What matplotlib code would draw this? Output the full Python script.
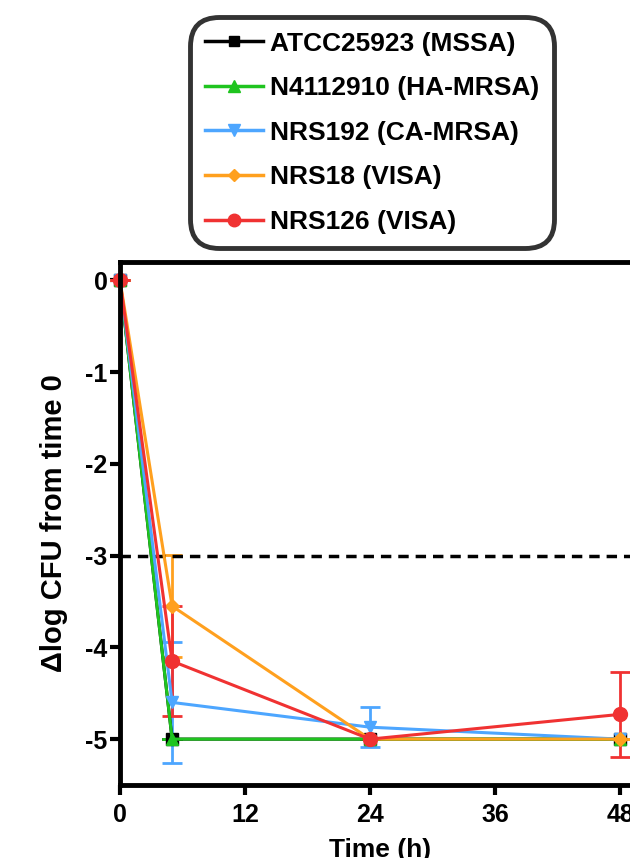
import matplotlib
matplotlib.use('Agg')
import matplotlib.pyplot as plt
from matplotlib.lines import Line2D

plt.rcParams['font.family'] = ['Liberation Sans', 'DejaVu Sans']
plt.rcParams['font.weight'] = 'bold'

# time points (h)
time_h = [0, 5, 24, 48]

# strains
labels = ['ATCC25923 (MSSA)', 'N4112910 (HA-MRSA)', 'NRS192 (CA-MRSA)',
          'NRS18 (VISA)', 'NRS126 (VISA)']
colors = ['#000000', '#1fc41f', '#4da6ff', '#ffa01e', '#f03232']
markers = ['s', '^', 'v', 'D', 'o']

# delta log CFU from time 0
atcc = [0, -5.0, -5.0, -5.0]
n411 = [0, -5.0, -5.0, -5.0]
nrs192 = [0, -4.60, -4.87, -5.0]
nrs18 = [0, -3.55, -5.0, -5.0]
nrs126 = [0, -4.15, -5.0, -4.73]

# error (SD)
atcc_err = [0, 0, 0, 0]
n411_err = [0, 0, 0, 0]
nrs192_err = [0, 0.66, 0.22, 0]
nrs18_err = [0, 0.56, 0, 0]
nrs126_err = [0, 0.60, 0, 0.46]

series = [atcc, n411, nrs192, nrs18, nrs126]
errors = [atcc_err, n411_err, nrs192_err, nrs18_err, nrs126_err]
msizes = [8, 9, 9, 7, 10]

fig = plt.figure(figsize=(6.3, 8.58), dpi=100)
W, H = 630, 858
px_per_h = 10.42
x_max = 50
ax = fig.add_axes([120 / W, 1 - 785 / H, x_max * px_per_h / W, (785 - 262) / H])

handles = []
for y, e, c, m, lab, ms in zip(series, errors, colors, markers, labels, msizes):
    ax.errorbar(time_h, y, yerr=e, color=c, marker=m, markersize=ms, lw=2.2,
                elinewidth=2, capsize=7, capthick=2, clip_on=False)
    handles.append(Line2D([], [], color=c, marker=m, markersize=ms - 1, lw=2.5, label=lab))

ax.axhline(-3, color='black', lw=2.5, ls=(0, (3, 2)))

ax.set_xlim(0, x_max)
ax.set_ylim(-5.5, 0.2)
ax.set_xticks([0, 12, 24, 36, 48])
ax.set_yticks([0, -1, -2, -3, -4, -5])
ax.set_yticklabels(['0', '-1', '-2', '-3', '-4', '-5'])
ax.tick_params(axis='both', width=3, length=7, labelsize=18)
ax.tick_params(axis='x', pad=6)
ax.tick_params(axis='y', pad=2)
for lbl in ax.get_xticklabels() + ax.get_yticklabels():
    lbl.set_fontweight('bold')
for s in ax.spines.values():
    s.set_linewidth(3.5)

ax.set_ylabel('\u0394log CFU from time 0', fontsize=21, fontweight='bold', labelpad=12)
ax.set_xlabel('Time (h)', fontsize=19, fontweight='bold', labelpad=8)

leg = fig.legend(handles=handles, loc='upper left', bbox_to_anchor=(190 / W, 1 - 17 / H),
                 frameon=True, fancybox=True, handlelength=2.2, borderaxespad=0,
                 handletextpad=0.3, labelspacing=0.78, borderpad=0.55,
                 prop={'weight': 'bold', 'size': 19})
leg.get_frame().set_edgecolor('black')
leg.get_frame().set_linewidth(3.5)
leg.get_frame().set_boxstyle('round,pad=0.0,rounding_size=1.1')

fig.savefig('out.png', dpi=100)
